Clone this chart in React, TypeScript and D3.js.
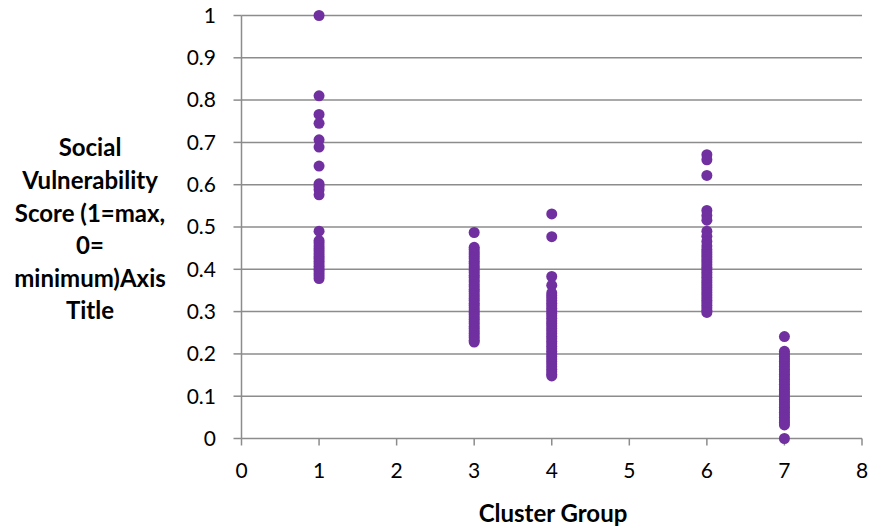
import React from "react";
import * as d3 from "d3";

const xTicks = [0, 1, 2, 3, 4, 5, 6, 7, 8];
const yTicks = [0, 0.1, 0.2, 0.3, 0.4, 0.5, 0.6, 0.7, 0.8, 0.9, 1];
const yTickLabels = ["0", "0.1", "0.2", "0.3", "0.4", "0.5", "0.6", "0.7", "0.8", "0.9", "1"];

const cluster1 = [1.0, 0.81, 0.766, 0.745, 0.706, 0.689, 0.644, 0.602, 0.596, 0.588, 0.576,
  0.49, 0.468, 0.462, 0.455, 0.449, 0.443, 0.437, 0.43, 0.425, 0.419, 0.413, 0.407, 0.401,
  0.396, 0.39, 0.384, 0.378];
const cluster3 = [0.487, 0.452, 0.447, 0.441, 0.436, 0.43, 0.425, 0.419, 0.414, 0.408, 0.403,
  0.397, 0.392, 0.386, 0.381, 0.375, 0.37, 0.364, 0.359, 0.353, 0.348, 0.342, 0.337, 0.331,
  0.326, 0.32, 0.315, 0.309, 0.304, 0.298, 0.293, 0.287, 0.282, 0.276, 0.271, 0.265, 0.26,
  0.254, 0.249, 0.243, 0.238, 0.232, 0.228];
const cluster4 = [0.531, 0.477, 0.383, 0.362, 0.344, 0.338, 0.332, 0.326, 0.32, 0.314, 0.308,
  0.302, 0.296, 0.29, 0.284, 0.278, 0.272, 0.266, 0.26, 0.254, 0.248, 0.242, 0.236, 0.23,
  0.224, 0.218, 0.212, 0.206, 0.2, 0.194, 0.188, 0.182, 0.176, 0.17, 0.164, 0.158, 0.152, 0.148];
const cluster6 = [0.671, 0.659, 0.622, 0.539, 0.527, 0.516, 0.49, 0.478, 0.466, 0.455, 0.447,
  0.441, 0.435, 0.429, 0.423, 0.417, 0.411, 0.405, 0.399, 0.393, 0.387, 0.381, 0.375, 0.369,
  0.363, 0.357, 0.351, 0.345, 0.339, 0.333, 0.327, 0.321, 0.315, 0.309, 0.303, 0.298];
const cluster7 = [0.241, 0.206, 0.2, 0.194, 0.188, 0.182, 0.176, 0.17, 0.164, 0.158, 0.152,
  0.146, 0.14, 0.134, 0.128, 0.122, 0.116, 0.11, 0.104, 0.098, 0.092, 0.086, 0.08, 0.074,
  0.068, 0.062, 0.056, 0.05, 0.044, 0.038, 0.032, 0.0];

const clusterGroups = [1, 3, 4, 6, 7];
const clusterValues = [cluster1, cluster3, cluster4, cluster6, cluster7];

const yTitleLines = ["Social", "Vulnerability", "Score (1=max,", "0=", "minimum)Axis", "Title"];
const xTitle = "Cluster Group";

export default function App() {
  const W = 871, H = 528;
  const x = d3.scaleLinear().domain([0, 8]).range([241.5, 862]);
  const y = d3.scaleLinear().domain([0, 1]).range([438.5, 15.5]);
  const grid = "#8c8c8c";
  const font = "Lato, 'Open Sans', sans-serif";
  const points: { cx: number; v: number }[] = [];
  clusterGroups.forEach((g, i) => clusterValues[i].forEach((v) => points.push({ cx: g, v })));

  return (
    <svg width={W} height={H} style={{ position: "absolute", left: 0, top: 0, background: "#fff" }}>
      {yTicks.map((t) => (
        <line key={"g" + t} x1={x(0)} x2={x(8)} y1={y(t)} y2={y(t)} stroke={grid} strokeWidth={1.5} />
      ))}
      <line x1={x(0)} x2={x(0)} y1={y(1)} y2={y(0)} stroke={grid} strokeWidth={1.5} />
      {yTicks.map((t) => (
        <line key={"yt" + t} x1={x(0) - 8} x2={x(0)} y1={y(t)} y2={y(t)} stroke={grid} strokeWidth={1.5} />
      ))}
      {xTicks.map((t) => (
        <line key={"xt" + t} x1={x(t)} x2={x(t)} y1={y(0)} y2={y(0) + 7} stroke={grid} strokeWidth={1.5} />
      ))}
      {yTicks.map((t, i) => (
        <text key={"yl" + t} x={216} y={y(t)} dy="0.35em" textAnchor="end" fontFamily={font} fontSize={21} fill="#000">
          {yTickLabels[i]}
        </text>
      ))}
      {xTicks.map((t) => (
        <text key={"xl" + t} x={x(t)} y={471} dy="0.35em" textAnchor="middle" fontFamily={font} fontSize={21} fill="#000">
          {t}
        </text>
      ))}
      {points.map((p, i) => (
        <circle key={"p" + i} cx={x(p.cx)} cy={y(p.v)} r={5.5} fill="#7030A0" />
      ))}
      {yTitleLines.map((l, i) => (
        <text key={"yt" + i} x={90} y={148 + i * 32.6} dy="0.35em" textAnchor="middle" fontFamily={font} fontWeight="bold" fontSize={24} fill="#000">
          {l}
        </text>
      ))}
      <text x={553} y={514} dy="0.35em" textAnchor="middle" fontFamily={font} fontWeight="bold" fontSize={24} fill="#000">
        {xTitle}
      </text>
    </svg>
  );
}
